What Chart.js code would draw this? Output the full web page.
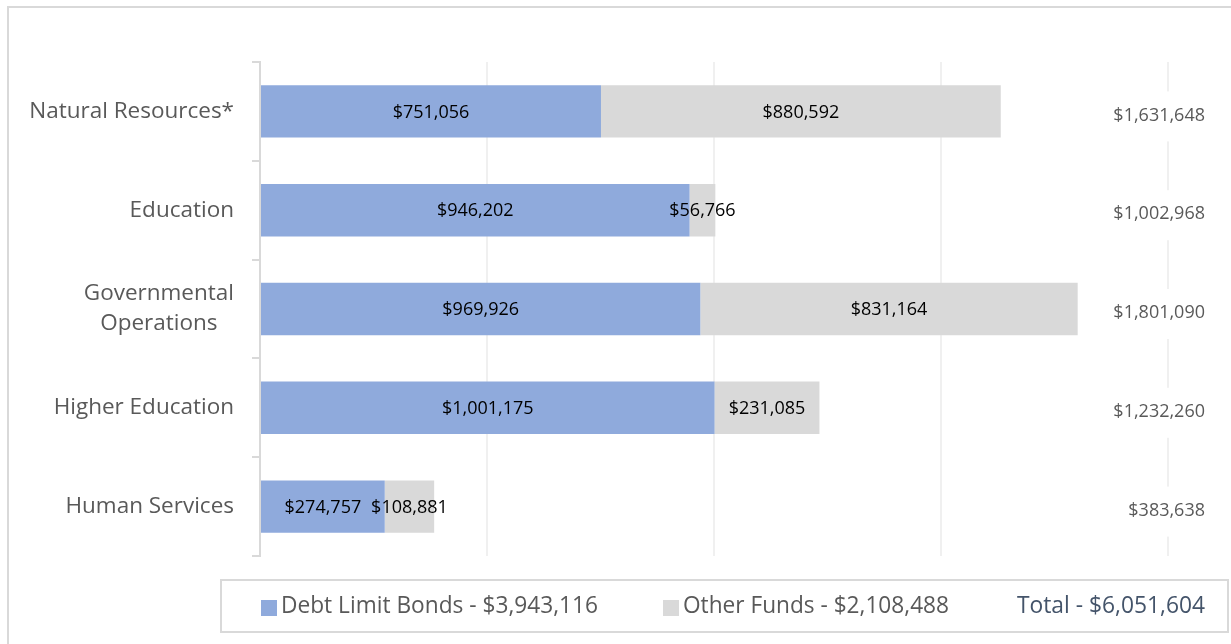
<!DOCTYPE html>
<html>
<head>
<meta charset="utf-8">
<script src="https://cdn.jsdelivr.net/npm/chart.js@4.4.1/dist/chart.umd.min.js"></script>
<style>
  html, body { margin: 0; padding: 0; background: #fff; }
  #wrap { width: 1231px; height: 644px; position: relative; }
</style>
</head>
<body>
<div id="wrap"><canvas id="fundChart" width="1231" height="644"></canvas></div>
<script>
// categories and amounts (dollars)
var categories = [['Natural Resources*'], ['Education'], ['Governmental', 'Operations'], ['Higher Education'], ['Human Services']];
var debtLimitBonds = [751056, 946202, 969926, 1001175, 274757];
var otherFunds = [880592, 56766, 831164, 231085, 108881];
var axisTicks = [0, 500000, 1000000, 1500000, 2000000];

var FONT = '"Open Sans", "Noto Sans", sans-serif';
var BLUE = '#8faadc';
var GREY = '#d9d9d9';

function money(v) {
	return '$' + v.toLocaleString('en-US');
}
function sum(arr) {
	return arr.reduce(function(a, b) { return a + b; }, 0);
}

// frame, category names, bar values, row totals and legend box
var decorations = {
	id: 'decorations',
	beforeDraw: function(chart) {
		var ctx = chart.ctx;
		ctx.save();
		ctx.strokeStyle = '#d9d9d9';
		ctx.lineWidth = 2;
		ctx.strokeRect(8, 7, 1300, 700);
		ctx.restore();
	},
	afterDatasetsDraw: function(chart) {
		var ctx = chart.ctx;
		var yScale = chart.scales.y;
		ctx.save();

		// category names
		ctx.fillStyle = '#595959';
		ctx.font = '22.5px ' + FONT;
		ctx.textBaseline = 'middle';
		categories.forEach(function(lines, i) {
			var y = yScale.getPixelForValue(i);
			var lh = 30;
			var top = y - (lines.length - 1) * lh / 2;
			if (lines.length === 1) {
				ctx.textAlign = 'right';
				ctx.fillText(lines[0], 234, y);
			} else {
				// multi-line names are centred on each other, block right-aligned
				var w = Math.max.apply(null, lines.map(function(l) { return ctx.measureText(l).width; }));
				ctx.textAlign = 'center';
				lines.forEach(function(l, k) {
					ctx.fillText(l, 234 - w / 2, top + k * lh);
				});
			}
		});

		// values inside the bars
		ctx.fillStyle = '#000';
		ctx.font = '18px ' + FONT;
		ctx.textAlign = 'center';
		chart.data.datasets.forEach(function(ds, di) {
			chart.getDatasetMeta(di).data.forEach(function(bar, i) {
				ctx.fillText(money(ds.data[i]), (bar.x + bar.base) / 2, bar.y + 1);
			});
		});

		// row totals on the right
		ctx.font = '18px ' + FONT;
		ctx.textAlign = 'right';
		categories.forEach(function(c, i) {
			var y = yScale.getPixelForValue(i) + 4;
			var txt = money(debtLimitBonds[i] + otherFunds[i]);
			var w = ctx.measureText(txt).width;
			ctx.fillStyle = '#fff';
			ctx.fillRect(1205 - w - 6, y - 24, w + 12, 50);
			ctx.fillStyle = '#595959';
			ctx.fillText(txt, 1205, y);
		});

		// legend box
		ctx.strokeStyle = '#d9d9d9';
		ctx.lineWidth = 2;
		ctx.strokeRect(221, 580, 1007, 52);
		ctx.font = '22.8px ' + FONT;
		ctx.textAlign = 'left';
		var ly = 607;
		ctx.fillStyle = BLUE;
		ctx.fillRect(261, 600, 16, 16);
		ctx.fillStyle = '#595959';
		ctx.fillText('Debt Limit Bonds - ' + money(sum(debtLimitBonds)), 281, ly, 317);
		ctx.fillStyle = GREY;
		ctx.fillRect(663, 600, 16, 16);
		ctx.fillStyle = '#595959';
		ctx.fillText('Other Funds - ' + money(sum(otherFunds)), 683, ly, 266);
		ctx.fillStyle = '#44546a';
		ctx.textAlign = 'right';
		ctx.fillText('Total - ' + money(sum(debtLimitBonds) + sum(otherFunds)), 1205, ly, 190);
		ctx.restore();
	}
};

new Chart(document.getElementById('fundChart'), {
	type: 'bar',
	data: {
		labels: categories,
		datasets: [{
			label: 'Debt Limit Bonds',
			data: debtLimitBonds,
			backgroundColor: BLUE,
			barPercentage: 0.53,
			categoryPercentage: 1
		}, {
			label: 'Other Funds',
			data: otherFunds,
			backgroundColor: GREY,
			barPercentage: 0.53,
			categoryPercentage: 1
		}]
	},
	options: {
		indexAxis: 'y',
		responsive: false,
		animation: false,
		layout: { padding: { top: 62, right: 63, bottom: 88, left: 0 } },
		plugins: {
			legend: { display: false },
			tooltip: { enabled: false }
		},
		scales: {
			x: {
				stacked: true,
				min: axisTicks[0],
				max: axisTicks[axisTicks.length - 1],
				afterBuildTicks: function(scale) {
					scale.ticks = axisTicks.map(function(v) { return { value: v }; });
				},
				afterFit: function(scale) { scale.height = 0; },
				ticks: { display: false },
				grid: { color: '#f0f0f0', lineWidth: 2, drawTicks: false },
				border: { display: false }
			},
			y: {
				stacked: true,
				offset: true,
				afterFit: function(scale) { scale.width = 260; },
				ticks: { display: false },
				grid: { drawOnChartArea: false, drawTicks: true, tickLength: 8, color: '#d9d9d9', lineWidth: 2 },
				border: { display: true, color: '#d9d9d9', width: 2 }
			}
		}
	},
	plugins: [decorations]
});
</script>
</body>
</html>
